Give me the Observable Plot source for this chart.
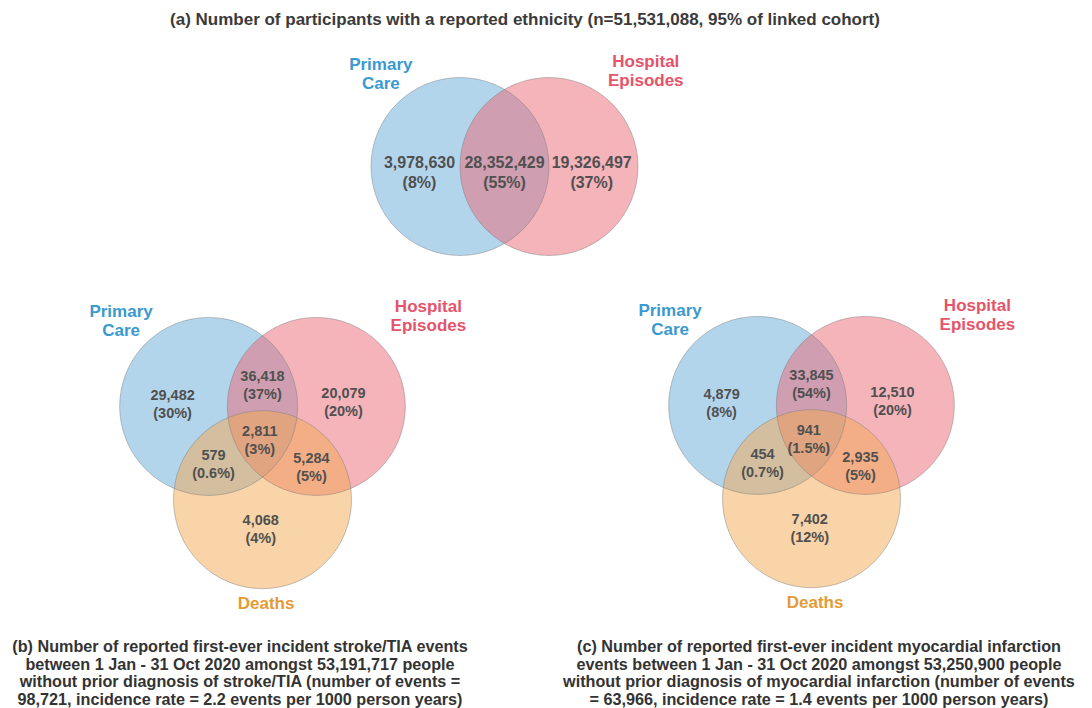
<!DOCTYPE html>
<html>
<head>
<meta charset="utf-8">
<script src="https://cdn.jsdelivr.net/npm/d3@7"></script>
<script src="https://cdn.jsdelivr.net/npm/@observablehq/plot@0.6"></script>
<style>
  body { margin: 0; background: #fff; }
  #page { width: 1092px; height: 708px; overflow: hidden; font-family: "Liberation Sans", Arial, sans-serif; }
  #title { width: 1050px; height: 40px; line-height: 40px; text-align: center; font-size: 17px; font-weight: bold; color: #3a3a3a; white-space: nowrap; }
  .row { display: flex; }
  .col { width: 546px; }
  .cap { margin-top: 23px; font-size: 16.2px; line-height: 17.5px; font-weight: bold; color: #333; text-align: center; white-space: nowrap; }
</style>
</head>
<body>
<div id="page">
  <div id="title">(a) Number of participants with a reported ethnicity (n=51,531,088, 95% of linked cohort)</div>
  <div id="panelA"></div>
  <div class="row">
    <div class="col">
      <div id="panelB"></div>
      <div class="cap" style="width:480px">(b) Number of reported first-ever incident stroke/TIA events<br>between 1 Jan - 31 Oct 2020 amongst 53,191,717 people<br>without prior diagnosis of stroke/TIA (number of events =<br>98,721, incidence rate = 2.2 events per 1000 person years)</div>
    </div>
    <div class="col">
      <div id="panelC"></div>
      <div class="cap" style="width:546px">(c) Number of reported first-ever incident myocardial infarction<br>events between 1 Jan - 31 Oct 2020 amongst 53,250,900 people<br>without prior diagnosis of myocardial infarction (number of events<br>= 63,966, incidence rate = 1.4 events per 1000 person years)</div>
    </div>
  </div>
</div>
<script>
// ---------------- DATA ----------------
const setsA = ["Primary Care", "Hospital Episodes"];
const setsBC = ["Primary Care", "Hospital Episodes", "Deaths"];

// region membership (which sets each region belongs to)
const membersA = [[1, 0], [1, 1], [0, 1]];
const countsA = [3978630, 28352429, 19326497];
const pctA = ["8%", "55%", "37%"];

const membersBC = [[1, 0, 0], [1, 1, 0], [0, 1, 0], [1, 1, 1], [1, 0, 1], [0, 1, 1], [0, 0, 1]];
const countsB = [29482, 36418, 20079, 2811, 579, 5284, 4068];
const pctB = ["30%", "37%", "20%", "3%", "0.6%", "5%", "4%"];
const countsC = [4879, 33845, 12510, 941, 454, 2935, 7402];
const pctC = ["8%", "54%", "20%", "1.5%", "0.7%", "5%", "12%"];

// ---------------- STYLE / LAYOUT ----------------
const setFill = {"Primary Care": "#67abd9", "Hospital Episodes": "#eb6775", "Deaths": "#f3a951"};
const setText = {"Primary Care": "#3a9ad0", "Hospital Episodes": "#e5546a", "Deaths": "#e49a36"};
const R_PX = 89; // circle radius in pixels (1 unit)

// Venn geometry in radius units (y grows downward)
function centers2(d) { return [[-d / 2, 0], [d / 2, 0]]; }
function centers3(s) {
  const h = s * Math.sqrt(3) / 2;
  return [[-s / 2, -h / 3], [s / 2, -h / 3], [0, 2 * h / 3]];
}
// name label placement: angle (deg) & distance (radius units) from circle centre
const nameLayout2 = [{a: -130.5, r: 1.37}, {a: -44.7, r: 1.53}];
const nameLayout3 = [{a: -135.5, r: 1.38}, {a: -39, r: 1.62}, {a: 88, r: 1.16}];
// small hand-tuned label nudges from the computed pole (radius units)
const nudge2 = [[0.045, 0.056], [0, 0.056], [-0.02, 0.056]];
const nudge3 = [[-0.04, 0.16], [0, 0.04], [-0.06, 0.14], [-0.03, 0.02], [0, -0.03], [0, 0], [-0.02, -0.09]];

// pole of inaccessibility of a Venn region (grid search)
function pole(centers, member) {
  let best = [0, 0], bestD = -1;
  const step = 0.01;
  for (let x = -2.6; x <= 2.6; x += step) {
    for (let y = -2.6; y <= 2.6; y += step) {
      let ok = true, dmin = Infinity;
      for (let i = 0; i < centers.length; i++) {
        const dd = Math.hypot(x - centers[i][0], y - centers[i][1]);
        if ((dd < 1) !== (member[i] === 1)) { ok = false; break; }
        dmin = Math.min(dmin, Math.abs(dd - 1));
      }
      if (ok && dmin > bestD) { bestD = dmin; best = [x, y]; }
    }
  }
  return best;
}

const fmt = d3.format(",");

function vennPlot({width, height, cx, cy, sets, centers, nameLayout, nudges, members, counts, pcts, numSize, numLH}) {
  const circles = sets.map((name, i) => ({name, x: centers[i][0], y: centers[i][1]}));
  const regions = members.map((m, i) => {
    const p = pole(centers, m);
    return {x: p[0] + nudges[i][0], y: p[1] + nudges[i][1], label: `${fmt(counts[i])}\n(${pcts[i]})`};
  });
  const names = sets.map((name, i) => {
    const L = nameLayout[i], a = L.a * Math.PI / 180;
    return {name, label: name.replace(" ", "\n"), x: centers[i][0] + L.r * Math.cos(a), y: centers[i][1] + L.r * Math.sin(a)};
  });
  const k = R_PX;
  return Plot.plot({
    width, height, margin: 0,
    style: {fontFamily: "'Liberation Sans', Arial, sans-serif", background: "transparent"},
    x: {domain: [-cx / k, (width - cx) / k], range: [0, width], axis: null},
    y: {domain: [-cy / k, (height - cy) / k], range: [0, height], axis: null},
    marks: [
      Plot.dot(circles, {x: "x", y: "y", r: R_PX, fill: d => setFill[d.name], fillOpacity: 0.5, stroke: "none"}),
      Plot.dot(circles, {x: "x", y: "y", r: R_PX, fill: "none", stroke: "#7a7a7a", strokeOpacity: 0.45, strokeWidth: 1}),
      Plot.text(regions, {x: "x", y: "y", text: "label", fontSize: numSize, lineHeight: numLH, fontWeight: "bold", fill: "#505050", textAnchor: "middle", lineAnchor: "middle"}),
      Plot.text(names, {x: "x", y: "y", text: "label", fontSize: 17, lineHeight: 1.12, fontWeight: "bold", fill: d => setText[d.name], textAnchor: "middle", lineAnchor: "middle"})
    ]
  });
}

document.getElementById("panelA").append(vennPlot({
  width: 1092, height: 240, cx: 504, cy: 126,
  sets: setsA, centers: centers2(1.0), nameLayout: nameLayout2, nudges: nudge2,
  members: membersA, counts: countsA, pcts: pctA, numSize: 16, numLH: 1.25
}));
document.getElementById("panelB").append(vennPlot({
  width: 546, height: 335, cx: 262, cy: 157,
  sets: setsBC, centers: centers3(1.21), nameLayout: nameLayout3, nudges: nudge3,
  members: membersBC, counts: countsB, pcts: pctB, numSize: 14.5, numLH: 1.24
}));
document.getElementById("panelC").append(vennPlot({
  width: 546, height: 335, cx: 265, cy: 156,
  sets: setsBC, centers: centers3(1.21), nameLayout: nameLayout3, nudges: nudge3,
  members: membersBC, counts: countsC, pcts: pctC, numSize: 14.5, numLH: 1.24
}));
</script>
</body>
</html>
